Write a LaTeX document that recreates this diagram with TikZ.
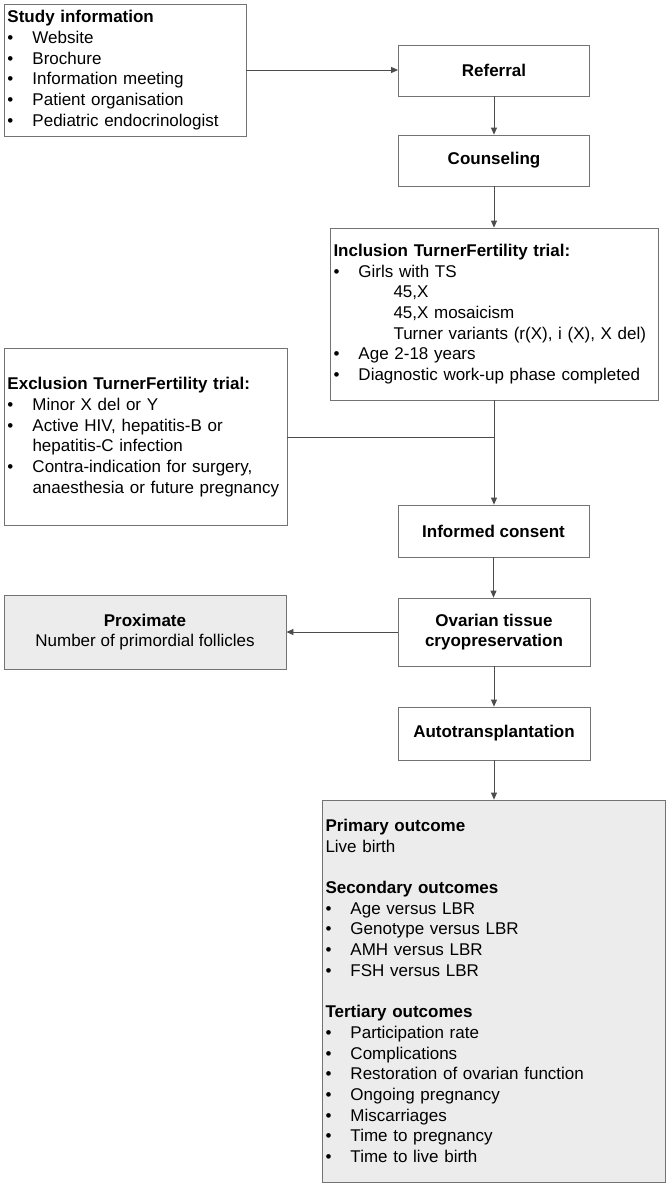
\documentclass[tikz,border=0pt]{standalone}
\usepackage{fontspec}
\setmainfont{Liberation Sans}
\usetikzlibrary{arrows.meta,positioning}
\newcommand{\bul}{\makebox[25pt][l]{\textbullet}}
\newcommand{\subitm}{\hspace*{60pt}}

\begin{document}
\begin{tikzpicture}[x=1pt,y=-1pt,
  box/.style={draw=black!55,line width=0.8pt,fill=white,inner xsep=3.5pt,inner ysep=0pt,font=\fontsize{17}{20.7}\selectfont},
  stepbox/.style={box,minimum width=191pt,font=\fontsize{17}{20.7}\selectfont\bfseries,align=center},
  listbox/.style={box,align=left},
  outbox/.style={box,fill=gray!15},
  arr/.style={draw=black!70,line width=0.8pt,-{Triangle[length=7pt,width=6pt]}},
  line/.style={draw=black!70,line width=0.8pt}]
\useasboundingbox (0,0) rectangle (669,1187);

\node[listbox,text width=235pt,minimum height=132pt] (study) at (125,70) {\textbf{Study information}\\
\bul Website\\ \bul Brochure\\ \bul Information meeting\\ \bul Patient organisation\\ \bul Pediatric endocrinologist};
\node[stepbox,minimum height=51pt] (referral) at (494,70.5) {Referral};
\node[stepbox,minimum height=51pt] (counsel) at (494,160.5) {Counseling};
\node[listbox,text width=321pt,minimum height=172pt] (incl) at (494,314) {\textbf{Inclusion TurnerFertility trial:}\\
\bul Girls with TS\\ \subitm 45,X\\ \subitm 45,X mosaicism\\ \subitm Turner variants (r(X), i (X), X del)\\
\bul Age 2-18 years\\ \bul Diagnostic work-up phase completed};
\node[listbox,text width=276pt,minimum height=177pt] (excl) at (145.5,437) {\textbf{Exclusion TurnerFertility trial:}\\
\bul Minor X del or Y\\ \bul Active HIV, hepatitis-B or\\ \hspace*{25pt}hepatitis-C infection\\
\bul Contra-indication for surgery,\\ \hspace*{25pt}anaesthesia or future pregnancy};
\node[stepbox,minimum height=52pt] (consent) at (493.5,531) {Informed consent};
\node[stepbox,minimum width=192pt,minimum height=68pt] (ovarian) at (494,632) {Ovarian tissue\\ cryopreservation};
\node[outbox,align=center,minimum width=282pt,minimum height=74pt] (prox) at (145,632) {\textbf{Proximate}\\ Number of primordial follicles};
\node[stepbox,minimum width=192pt,minimum height=53pt] (auto) at (494,733.5) {Autotransplantation};
\node[outbox,align=left,text width=336pt,minimum height=382pt] (outc) at (493.5,991) {\textbf{Primary outcome}\\ Live birth\\[20.7pt]
\textbf{Secondary outcomes}\\ \bul Age versus LBR\\ \bul Genotype versus LBR\\ \bul AMH versus LBR\\ \bul FSH versus LBR\\[20.7pt]
\textbf{Tertiary outcomes}\\ \bul Participation rate\\ \bul Complications\\ \bul Restoration of ovarian function\\
\bul Ongoing pregnancy\\ \bul Miscarriages\\ \bul Time to pregnancy\\ \bul Time to live birth};

\draw[arr] (study.east) -- (study.east -| referral.west);
\draw[arr] (referral) -- (counsel);
\draw[arr] (counsel) -- (counsel.south |- incl.north);
\draw[line] (excl.east) -- (excl.east -| incl.south);
\draw[arr] (incl.south) -- (incl.south |- consent.north);
\draw[arr] (consent) -- (consent.south |- ovarian.north);
\draw[arr] (ovarian) -- (prox);
\draw[arr] (ovarian) -- (auto);
\draw[arr] (auto.south) -- (auto.south |- outc.north);
\end{tikzpicture}
\end{document}
